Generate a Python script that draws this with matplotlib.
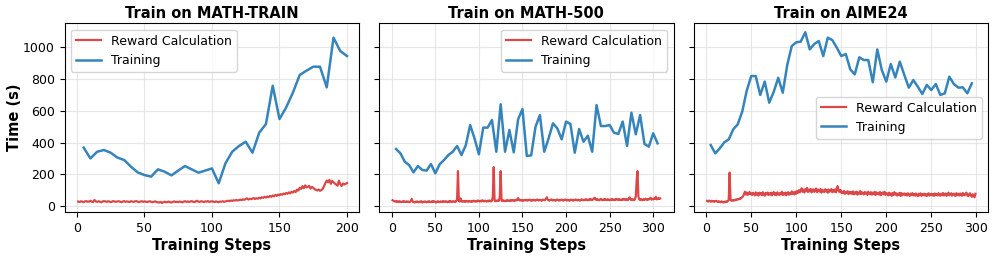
import numpy as np
import matplotlib
matplotlib.use("Agg")
import matplotlib.pyplot as plt

titles = ["Train on MATH-TRAIN", "Train on MATH-500", "Train on AIME24"]

# Training time (every 5 steps)
train1 = [368, 300, 342, 353, 336, 305, 290, 248, 212, 195, 185, 231, 216, 193, 223, 252, 231, 210, 223, 237,
          143, 269, 342, 378, 405, 336, 462, 517, 758, 548, 622, 716, 826, 853, 878, 878, 748, 1061, 977, 945]
train2 = [359, 332, 279, 258, 212, 252, 227, 223, 265, 206, 263, 290, 321, 342, 378, 321, 384, 510, 426, 326,
          494, 494, 542, 342, 641, 342, 479, 338, 546, 611, 315, 319, 500, 573, 342, 426, 521, 489, 420, 532,
          517, 336, 485, 405, 443, 342, 636, 504, 504, 510, 462, 454, 532, 378, 588, 452, 573, 391, 374, 458, 395]
train3 = [384, 332, 363, 401, 420, 483, 515, 595, 727, 819, 819, 700, 784, 651, 720, 808, 714, 889, 1008, 1032,
          1036, 1095, 987, 1021, 1040, 945, 1061, 1046, 998, 945, 958, 861, 830, 937, 920, 920, 780, 987, 857, 784,
          895, 810, 910, 826, 746, 794, 752, 706, 763, 731, 769, 700, 710, 815, 769, 746, 748, 710, 773]

# Reward calculation time (every step)
reward1 = [28, 25, 30, 27, 24, 29, 31, 26, 28, 33, 27, 25, 38, 29, 26, 30, 27, 24, 28, 31,
           29, 26, 30, 28, 25, 27, 31, 28, 26, 29, 30, 27, 24, 28, 31, 26, 29, 27, 25, 30,
           28, 26, 29, 31, 27, 24, 28, 30, 26, 29, 27, 25, 28, 30, 26, 24, 27, 29, 25, 23,
           22, 26, 19, 24, 27, 23, 25, 28, 24, 22, 26, 29, 25, 27, 24, 28, 26, 23, 27, 30,
           26, 29, 25, 28, 31, 27, 24, 29, 33, 27, 26, 30, 28, 25, 29, 27, 31, 26, 28, 30,
           27, 25, 29, 26, 24, 28, 27, 30, 26, 29, 31, 33, 30, 35, 32, 36, 34, 38, 35, 37,
           40, 37, 42, 39, 44, 48, 41, 45, 43, 47, 50, 44, 49, 46, 52, 48, 55, 51, 58, 54,
           60, 56, 63, 58, 66, 61, 70, 64, 72, 68, 75, 71, 78, 74, 82, 77, 86, 80, 90, 85,
           95, 88, 103, 97, 115, 108, 125, 112, 130, 118, 122, 127, 110, 120, 115, 106, 102, 98, 104, 96,
           100, 108, 125, 145, 160, 150, 165, 140, 158, 150, 142, 135, 128, 160, 138, 125, 142, 136, 140, 145]
reward2 = [36, 33, 30, 28, 31, 26, 29, 25, 30, 27, 24, 28, 26, 31, 27, 25, 29, 26, 28, 24,
           27, 30, 45, 28, 25, 22, 27, 24, 29, 26, 23, 28, 25, 30, 22, 27, 24, 29, 26, 23,
           28, 25, 30, 27, 24, 29, 26, 31, 28, 25, 22, 27, 30, 26, 24, 29, 27, 25, 31, 28,
           26, 30, 27, 24, 29, 25, 32, 28, 26, 30, 27, 29, 25, 31, 40, 220, 32, 28, 48, 30,
           27, 31, 29, 26, 33, 28, 30, 27, 32, 29, 26, 31, 28, 34, 30, 27, 32, 29, 35, 31,
           28, 33, 30, 36, 32, 29, 34, 31, 28, 33, 30, 35, 32, 29, 34, 60, 245, 33, 30, 34,
           31, 36, 33, 60, 220, 34, 31, 36, 33, 30, 35, 32, 37, 34, 31, 36, 33, 38, 35, 32,
           37, 34, 39, 36, 50, 40, 35, 38, 34, 37, 33, 36, 39, 35, 38, 34, 37, 40, 36, 33,
           38, 35, 39, 36, 34, 38, 41, 37, 35, 39, 36, 33, 38, 40, 36, 39, 45, 55, 40, 37,
           34, 38, 41, 37, 35, 39, 36, 33, 38, 41, 37, 34, 39, 36, 40, 37, 34, 38, 41, 37,
           35, 39, 36, 33, 38, 40, 37, 34, 39, 36, 41, 38, 35, 40, 37, 34, 39, 42, 38, 36,
           40, 37, 43, 39, 36, 41, 38, 45, 40, 37, 42, 48, 52, 41, 38, 43, 39, 36, 41, 45,
           39, 37, 42, 38, 44, 40, 37, 43, 39, 36, 41, 38, 44, 40, 37, 42, 39, 45, 41, 38,
           43, 40, 37, 42, 39, 45, 41, 38, 44, 40, 37, 48, 55, 41, 38, 43, 40, 37, 42, 60,
           160, 220, 60, 41, 38, 44, 40, 37, 43, 39, 46, 42, 38, 44, 41, 47, 52, 40, 45, 42,
           48, 44, 58, 42, 46, 50, 44, 47]
reward3 = [32, 28, 34, 30, 27, 33, 29, 31, 26, 30, 33, 28, 25, 30, 27, 24, 29, 26, 22, 27,
           24, 29, 26, 31, 40, 210, 38, 33, 36, 34,
           38, 35, 41, 39, 44, 42, 47, 45, 52, 55,
           62, 75, 90, 72, 85, 70, 78, 88, 74, 80,
           70, 83, 74, 67, 86, 71, 81, 66, 84, 73,
           80, 68, 87, 72, 65, 82, 74, 85, 69, 80,
           72, 84, 67, 79, 88, 71, 81, 68, 86, 74,
           70, 82, 73, 90, 69, 81, 72, 85, 68, 79,
           87, 71, 82, 74, 92, 76, 86, 73, 90, 78,
           94, 83, 100, 86, 97, 112, 90, 102, 85, 106,
           94, 114, 88, 103, 92, 108, 86, 101, 105, 89,
           99, 110, 87, 104, 93, 91, 107, 85, 102, 94,
           88, 105, 92, 101, 84, 103, 90, 99, 107, 87,
           100, 91, 104, 86, 110, 125, 94, 89, 101, 83,
           90, 80, 95, 77, 88, 82, 93, 75, 89, 79,
           87, 76, 92, 74, 86, 78, 90, 72, 85, 77,
           94, 75, 86, 79, 73, 88, 77, 85, 70, 90,
           82, 74, 87, 71, 84, 76, 89, 69, 86, 75,
           83, 72, 88, 68, 81, 85, 74, 90, 70, 82,
           77, 67, 84, 71, 79, 64, 82, 69, 87, 72,
           80, 66, 78, 70, 83, 63, 81, 68, 76, 79,
           68, 77, 66, 80, 70, 64, 78, 69, 81, 67,
           76, 65, 79, 69, 62, 77, 67, 80, 64, 75,
           68, 78, 66, 74, 63, 76, 80, 65, 73, 77,
           67, 75, 64, 79, 68, 76, 66, 81, 70, 65,
           77, 68, 82, 66, 75, 79, 64, 73, 84, 67,
           76, 80, 65, 74, 78, 68, 63, 81, 69, 76,
           66, 79, 70, 64, 82, 71, 67, 77, 84, 68,
           62, 75, 80, 66, 58, 74, 64, 55, 77]

trains = [train1, train2, train3]
rewards = [reward1, reward2, reward3]
legend_locs = ["upper left", "upper right", "center right"]

RED = "#d62728"
BLUE = "#1f77b4"

fig, axes = plt.subplots(1, 3, figsize=(9.96, 2.57), dpi=100, sharey=True)
fig.subplots_adjust(left=0.065, right=0.992, bottom=0.175, top=0.909, wspace=0.068)

for ax, title, tr, rw, loc in zip(axes, titles, trains, rewards, legend_locs):
    rsteps = np.arange(1, len(rw) + 1)
    tsteps = np.arange(1, len(tr) + 1) * 5
    ax.plot(rsteps, rw, color=RED, lw=1.6, alpha=0.85, label="Reward Calculation")
    ax.plot(tsteps, tr, color=BLUE, lw=1.8, alpha=0.9, label="Training")
    ax.set_title(title, fontsize=10.5, fontweight="bold", pad=4)
    ax.set_xlabel("Training Steps", fontsize=10.5, fontweight="bold", labelpad=2)
    ax.grid(True, color="#dddddd", alpha=0.7, lw=0.8)
    ax.tick_params(labelsize=9)
    if loc == "center right":
        ax.legend(loc="center right", fontsize=9, bbox_to_anchor=(1.0, 0.5), borderaxespad=0.5)
    else:
        ax.legend(loc=loc, fontsize=9)

axes[0].set_xlim(-9, 209)
axes[1].set_xlim(-14.4, 323.4)
axes[2].set_xlim(-14, 313)
axes[0].set_ylim(-38, 1151)
axes[0].set_yticks([0, 200, 400, 600, 800, 1000])
axes[0].set_ylabel("Time (s)", fontsize=10.5, fontweight="bold", labelpad=1)

fig.savefig("out.png", dpi=100)
